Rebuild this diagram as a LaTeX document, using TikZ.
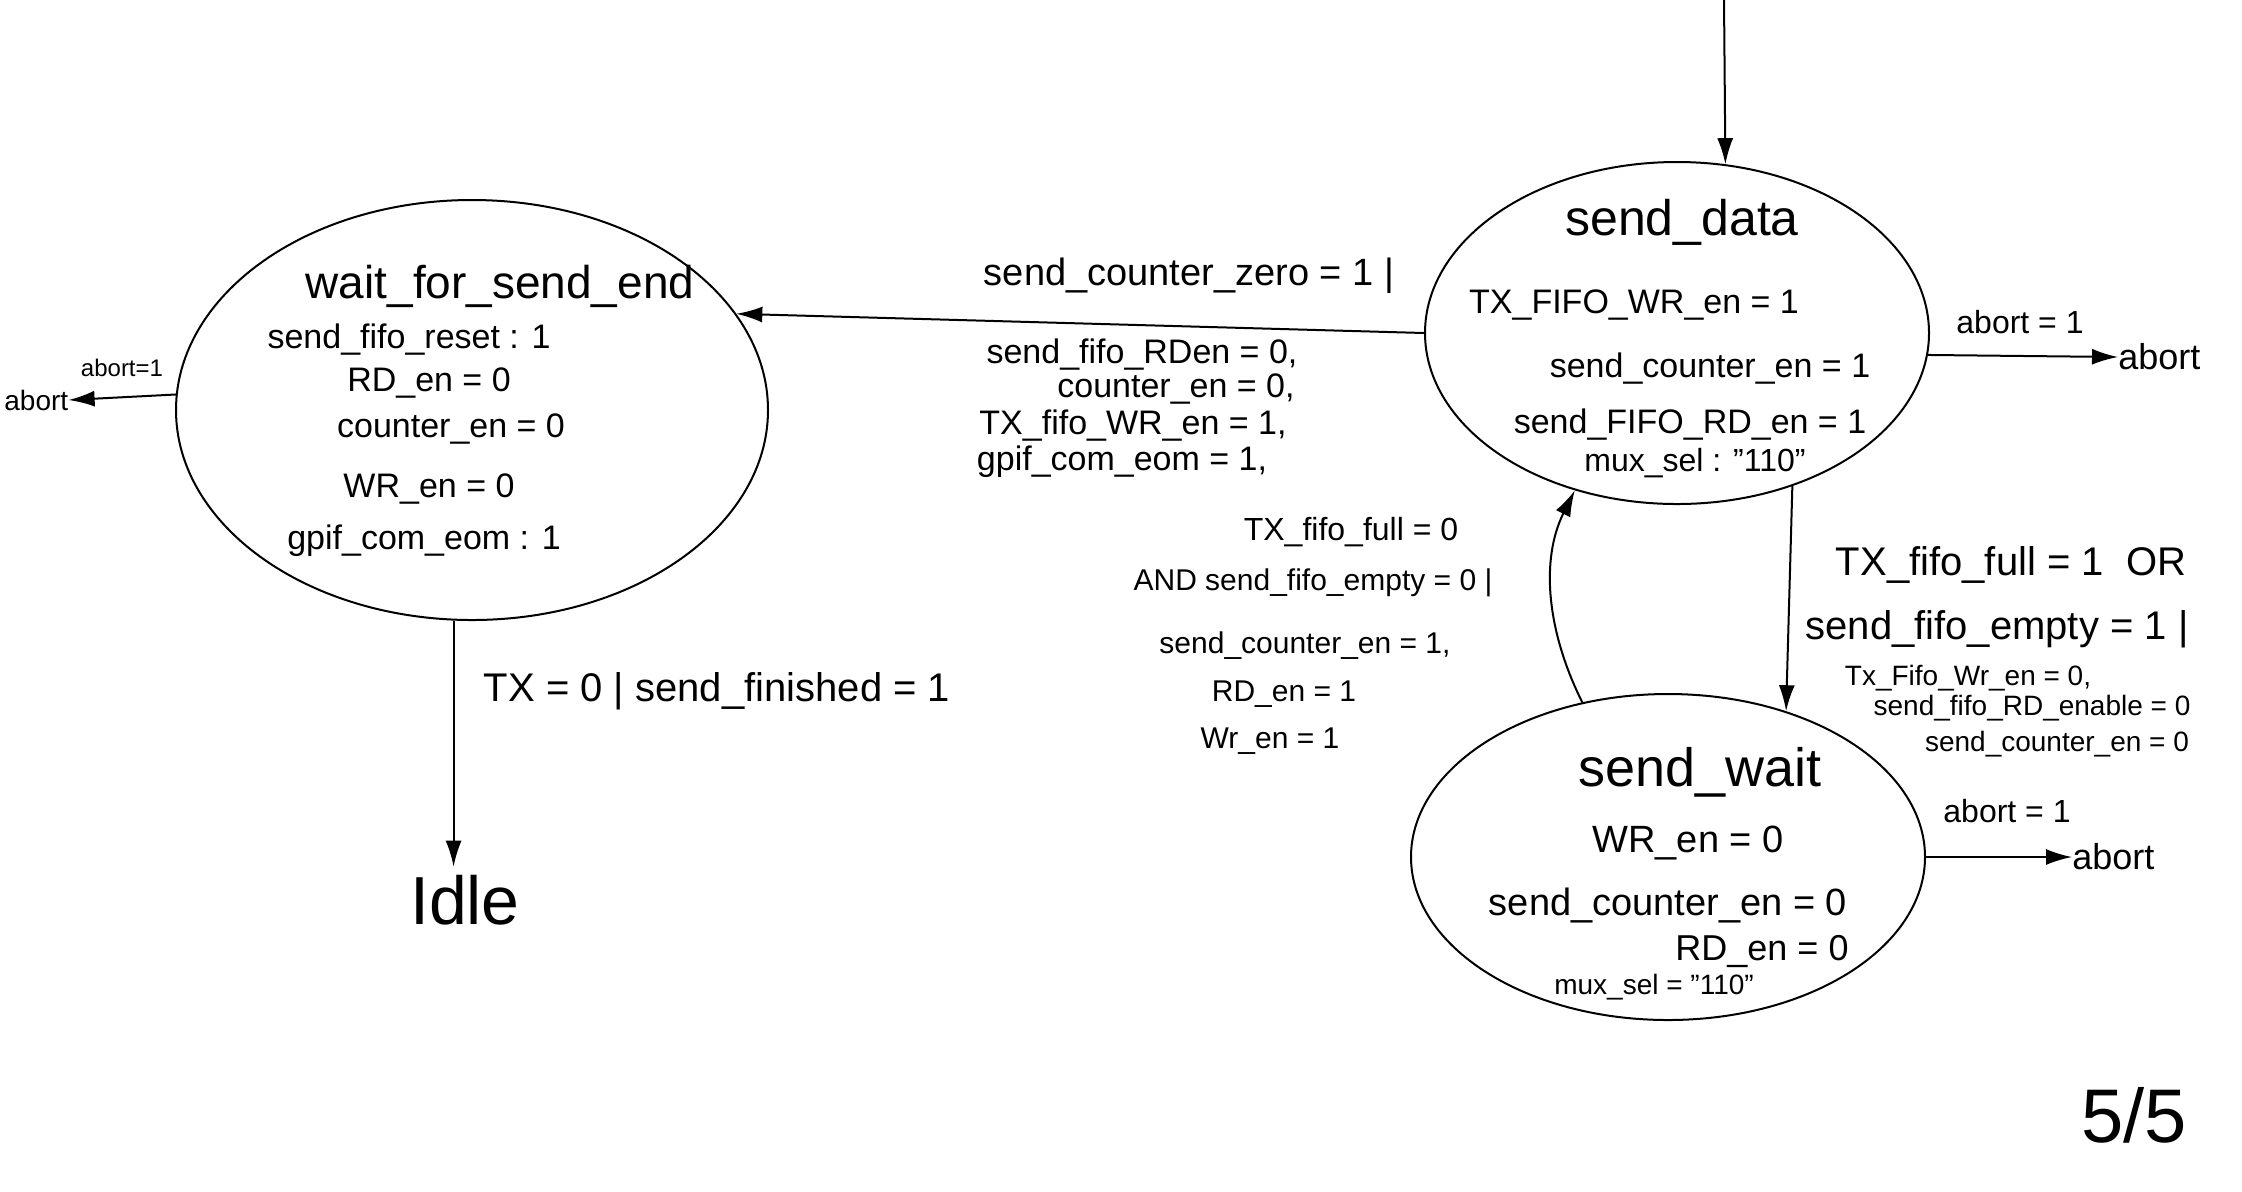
\documentclass[tikz,border=0pt]{standalone}
\usepackage{fontspec}
\setmainfont{Liberation Sans}
\usetikzlibrary{arrows.meta,shapes.geometric}
\begin{document}
\begin{tikzpicture}[x=0.5pt,y=-0.5pt,
  state/.style={draw,ellipse,line width=1pt,inner sep=0pt},
  arr/.style={line width=1pt,-{Latex[length=13pt,width=8pt]}},
  ttl/.style={inner sep=0pt,font=\fontsize{25}{28}\selectfont},
  body/.style={inner sep=0pt,font=\fontsize{17}{20}\selectfont},
  lbl/.style={inner sep=0pt,font=\fontsize{17}{20}\selectfont},
  biglbl/.style={inner sep=0pt,font=\fontsize{20}{23}\selectfont},
  midlbl/.style={inner sep=0pt,font=\fontsize{15}{18}\selectfont},
  small/.style={inner sep=0pt,font=\fontsize{14}{16}\selectfont},
  tiny/.style={inner sep=0pt,font=\fontsize{12}{14}\selectfont},
  term/.style={inner sep=0pt,font=\fontsize{18}{21}\selectfont}
]
\useasboundingbox (0,0) rectangle (2242,1191);

% states
\node[state,minimum width=296pt,minimum height=210pt] (wf) at (472,410) {};
\node[state,minimum width=252pt,minimum height=171pt] (sd) at (1677,333) {};
\node[state,minimum width=257pt,minimum height=163pt] (sw) at (1668,857) {};

% wait_for_send_end contents
\node[ttl,font=\fontsize{23}{26}\selectfont] (wft) at (500,286) {wait\_for\_send\_end};
\node[body] (wf1) at (409,340) {send\_fifo\_reset : 1};
\node[body] (wf2) at (429,383) {RD\_en = 0};
\node[body] (wf3) at (451,429) {counter\_en = 0};
\node[body] (wf4) at (429,489) {WR\_en = 0};
\node[body] (wf5) at (424,541) {gpif\_com\_eom : 1};

% send_data contents
\node[ttl] (sdt) at (1682,222) {send\_data};
\node[body] (sd1) at (1634,305) {TX\_FIFO\_WR\_en = 1};
\node[body] (sd2) at (1710,369) {send\_counter\_en = 1};
\node[body] (sd3) at (1690,425) {send\_FIFO\_RD\_en = 1};
\node[body,font=\fontsize{16}{19}\selectfont] (sd4) at (1695,463) {mux\_sel : "110"};

% send_wait contents
\node[ttl,font=\fontsize{27}{30}\selectfont] (swt) at (1700,772) {send\_wait};
\node[body,font=\fontsize{19}{22}\selectfont] (sw1) at (1688,843) {WR\_en = 0};
\node[body,font=\fontsize{19}{22}\selectfont] (sw2) at (1668,905) {send\_counter\_en = 0};
\node[body,font=\fontsize{18}{21}\selectfont] (sw3) at (1762,951) {RD\_en = 0};
\node[small] (sw4) at (1654,987) {mux\_sel = "110"};

% initial arrow
\coordinate (init) at (1724,0);
\draw[arr] (init) -- (sd.74);

% send_data -> wait_for_send_end
\draw[arr] (sd.west) -- (wf.20);
\node[lbl,font=\fontsize{19}{22}\selectfont] (l1) at (1189,276) {send\_counter\_zero = 1 |};
\node[lbl] (l2) at (1142,355) {send\_fifo\_RDen = 0,};
\node[lbl] (l3) at (1176,389) {counter\_en = 0,};
\node[lbl] (l4) at (1133,426) {TX\_fifo\_WR\_en = 1,};
\node[lbl] (l5) at (1122,462) {gpif\_com\_eom = 1,};

% send_data -> send_wait
\draw[arr] (sd.-53) -- (sw.51);
\node[biglbl] (r1) at (2011,565) {TX\_fifo\_full = 1 \ OR};
\node[biglbl] (r2) at (1997,629) {send\_fifo\_empty = 1 |};
\node[small] (r3) at (1968,678) {Tx\_Fifo\_Wr\_en = 0,};
\node[small] (r4) at (2032,708) {send\_fifo\_RD\_enable = 0};
\node[small] (r5) at (2057,744) {send\_counter\_en = 0};

% send_wait -> send_data
\draw[arr] (sw.119) .. controls +(-35,-70) and +(-35,70) .. (sd.-123);
\node[midlbl,font=\fontsize{16}{19}\selectfont] (c1) at (1351,532) {TX\_fifo\_full = 0};
\node[midlbl] (c2) at (1313,583) {AND send\_fifo\_empty = 0 |};
\node[midlbl] (c3) at (1305,646) {send\_counter\_en = 1,};
\node[midlbl] (c4) at (1284,694) {RD\_en = 1};
\node[midlbl] (c5) at (1270,741) {Wr\_en = 1};

% aborts
\node[term,anchor=west] (ab1) at (2118,357) {abort};
\draw[arr] (sd.-5) -- (ab1.west);
\node[small,font=\fontsize{16}{19}\selectfont] (al1) at (2020,322) {abort = 1};

\node[term,anchor=west] (ab2) at (2072,857) {abort};
\draw[arr] (sw.east) -- (ab2.west);
\node[small,font=\fontsize{16}{19}\selectfont] (al2) at (2007,811) {abort = 1};

\node[small,anchor=west] (ab0) at (4,400) {abort};
\draw[arr] (wf.177) -- (ab0.east);
\node[tiny] (al0) at (122,368) {abort=1};

% wait_for_send_end -> Idle
\node[inner sep=4pt,font=\fontsize{34}{38}\selectfont] (idle) at (465,900) {Idle};
\draw[arr] (wf.-95) -- (wf.-95 |- idle.north);
\node[biglbl] (l6) at (717,691) {TX = 0 | send\_finished = 1};

% page number
\node[inner sep=0pt,font=\fontsize{38}{42}\selectfont] (pg) at (2134,1115) {5/5};
\end{tikzpicture}
\end{document}
